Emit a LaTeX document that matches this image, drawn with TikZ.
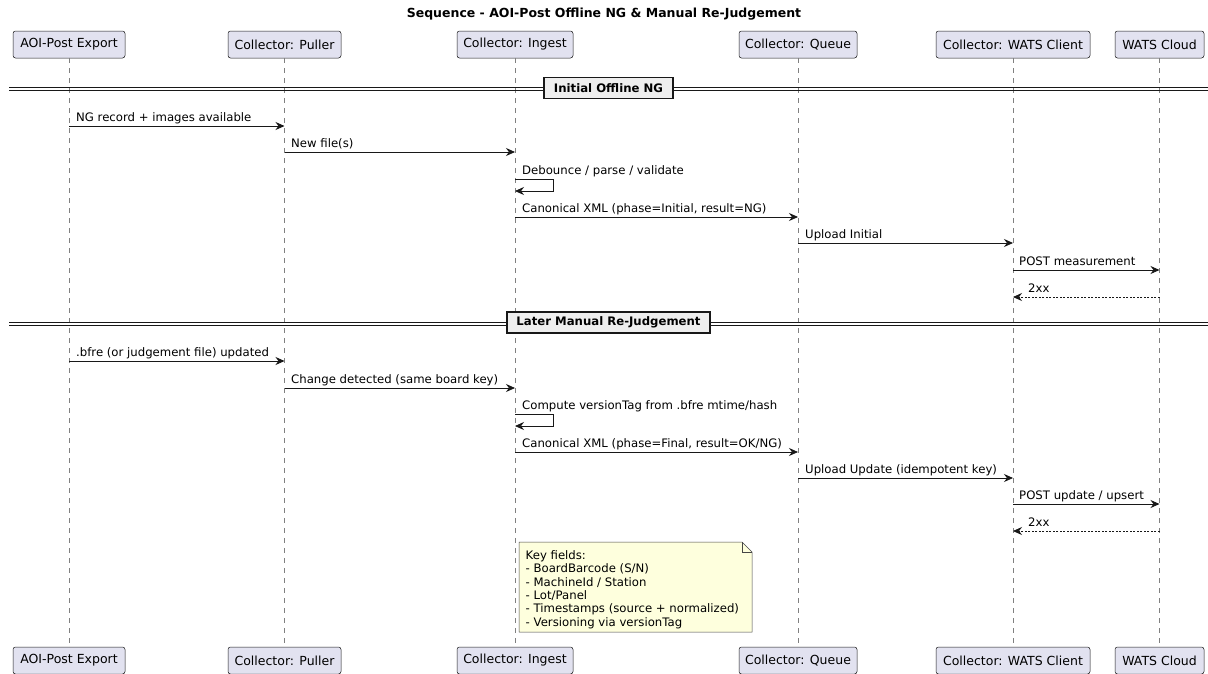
\documentclass[tikz,border=0pt]{standalone}
\usepackage{fontspec}
\setmainfont{DejaVu Sans}
\usetikzlibrary{arrows.meta}
\definecolor{partfill}{HTML}{E2E2F0}
\definecolor{linecol}{HTML}{181818}
\definecolor{notefill}{HTML}{FEFFDD}
\definecolor{divfill}{HTML}{EEEEEE}
\begin{document}
\begin{tikzpicture}[x=1pt,y=-1pt,
  part/.style={draw=linecol, fill=partfill, rounded corners=2.5pt, line width=0.5pt,
    minimum height=27pt, inner sep=0pt, font=\fontsize{12.5}{14}\selectfont},
  lifeline/.style={draw=linecol!55, dash pattern=on 5pt off 5pt, line width=0.6pt},
  msg/.style={draw=linecol, line width=0.8pt, -{Stealth[length=9pt,width=8pt,inset=3pt]}},
  ret/.style={msg, dash pattern=on 2pt off 1.5pt},
  lbl/.style={anchor=base west, inner sep=0pt, font=\fontsize{11.7}{14}\selectfont},
  divbox/.style={draw=linecol, fill=divfill, line width=1.3pt,
    font=\bfseries\fontsize{11.7}{14}\selectfont, minimum height=21pt, inner sep=0pt},
  divline/.style={draw=linecol, line width=0.8pt},
  notebox/.style={draw=linecol!80, fill=notefill, line width=0.5pt},
]
\useasboundingbox (0,0) rectangle (1208,673);
\fill[white] (0,0) rectangle (1208,673);

% title
\node[font=\bfseries\fontsize{12.5}{14}\selectfont, inner sep=0pt] (title) at (604,14)
  {Sequence - AOI-Post Offline NG \& Manual Re-Judgement};

% participants (top)
\node[part, minimum width=112pt] (aoi) at (69,44.5) {AOI-Post Export};
\node[part, minimum width=113pt] (pul) at (284.5,44.5) {Collector: Puller};
\node[part, minimum width=116pt] (ing) at (515,44.5) {Collector: Ingest};
\node[part, minimum width=118pt] (que) at (798,44.5) {Collector: Queue};
\node[part, minimum width=154pt] (cli) at (1013,44.5) {Collector: WATS Client};
\node[part, minimum width=89pt] (clo) at (1159.5,44.5) {WATS Cloud};
% participants (bottom)
\node[part, minimum width=112pt] (aoiB) at (69,660.5) {AOI-Post Export};
\node[part, minimum width=113pt] (pulB) at (284.5,660.5) {Collector: Puller};
\node[part, minimum width=116pt] (ingB) at (515,660.5) {Collector: Ingest};
\node[part, minimum width=118pt] (queB) at (798,660.5) {Collector: Queue};
\node[part, minimum width=154pt] (cliB) at (1013,660.5) {Collector: WATS Client};
\node[part, minimum width=89pt] (cloB) at (1159.5,660.5) {WATS Cloud};

% lifelines
\draw[lifeline] (aoi.south) -- (aoiB.north);
\draw[lifeline] (pul.south) -- (pulB.north);
\draw[lifeline] (ing.south) -- (ingB.north);
\draw[lifeline] (que.south) -- (queB.north);
\draw[lifeline] (cli.south) -- (cliB.north);
\draw[lifeline] (clo.south) -- (cloB.north);

% divider 1
\coordinate (d1l) at (9,88.5);
\coordinate (d1r) at (1208,88.5);
\draw[divline] ([yshift=-1.5pt]d1l) -- ([yshift=-1.5pt]d1r);
\draw[divline] ([yshift=1.5pt]d1l) -- ([yshift=1.5pt]d1r);
\node[divbox, minimum width=129pt] (div1) at (608.5,88) {Initial Offline NG};

% divider 2
\coordinate (d2l) at (9,323.5);
\coordinate (d2r) at (1208,323.5);
\draw[divline] ([yshift=-1.5pt]d2l) -- ([yshift=-1.5pt]d2r);
\draw[divline] ([yshift=1.5pt]d2l) -- ([yshift=1.5pt]d2r);
\node[divbox, minimum width=203pt] (div2) at (608.5,322.5) {Later Manual Re-Judgement};

% section 1 messages
\draw[msg] (aoi |- 0,126) -- (pul |- 0,126);
\node[lbl] (l1) at (76,121.5) {NG record + images available};
\draw[msg] (pul |- 0,152) -- (ing |- 0,152);
\node[lbl] (l2) at (291,147.5) {New file(s)};
\draw[msg] (ing |- 0,179) -- (553,179) -- (553,191) -- (ing |- 0,191);
\node[lbl] (l3) at (522,174.5) {Debounce / parse / validate};
\draw[msg] (ing |- 0,217) -- (que |- 0,217);
\node[lbl] (l4) at (522,212.5) {Canonical XML (phase=Initial, result=NG)};
\draw[msg] (que |- 0,243) -- (cli |- 0,243);
\node[lbl] (l5) at (805,238.5) {Upload Initial};
\draw[msg] (cli |- 0,270) -- (clo |- 0,270);
\node[lbl] (l6) at (1019,265.5) {POST measurement};
\draw[ret] (clo |- 0,297) -- (cli |- 0,297);
\node[lbl] (l7) at (1028,292.5) {2xx};

% section 2 messages
\draw[msg] (aoi |- 0,361) -- (pul |- 0,361);
\node[lbl] (l8) at (76,356.5) {.bfre (or judgement file) updated};
\draw[msg] (pul |- 0,388) -- (ing |- 0,388);
\node[lbl] (l9) at (291,383.5) {Change detected (same board key)};
\draw[msg] (ing |- 0,414) -- (553,414) -- (553,426) -- (ing |- 0,426);
\node[lbl] (l10) at (522,409.5) {Compute versionTag from .bfre mtime/hash};
\draw[msg] (ing |- 0,452) -- (que |- 0,452);
\node[lbl] (l11) at (522,447.5) {Canonical XML (phase=Final, result=OK/NG)};
\draw[msg] (que |- 0,478) -- (cli |- 0,478);
\node[lbl] (l12) at (805,473.5) {Upload Update (idempotent key)};
\draw[msg] (cli |- 0,504) -- (clo |- 0,504);
\node[lbl] (l13) at (1019,499.5) {POST update / upsert};
\draw[ret] (clo |- 0,531) -- (cli |- 0,531);
\node[lbl] (l14) at (1028,526.5) {2xx};

% note
\draw[notebox] (519,542) -- (742,542) -- (752,552) -- (752,632) -- (519,632) -- cycle;
\draw[notebox, fill=none] (742,542) -- (742,552) -- (752,552);
\node[anchor=north west, inner sep=0pt, align=left,
  font=\fontsize{11.7}{13.4}\selectfont] (note) at (525.5,550.2)
  {Key fields:\\- BoardBarcode (S/N)\\- MachineId / Station\\- Lot/Panel\\- Timestamps (source + normalized)\\- Versioning via versionTag};
\end{tikzpicture}
\end{document}
